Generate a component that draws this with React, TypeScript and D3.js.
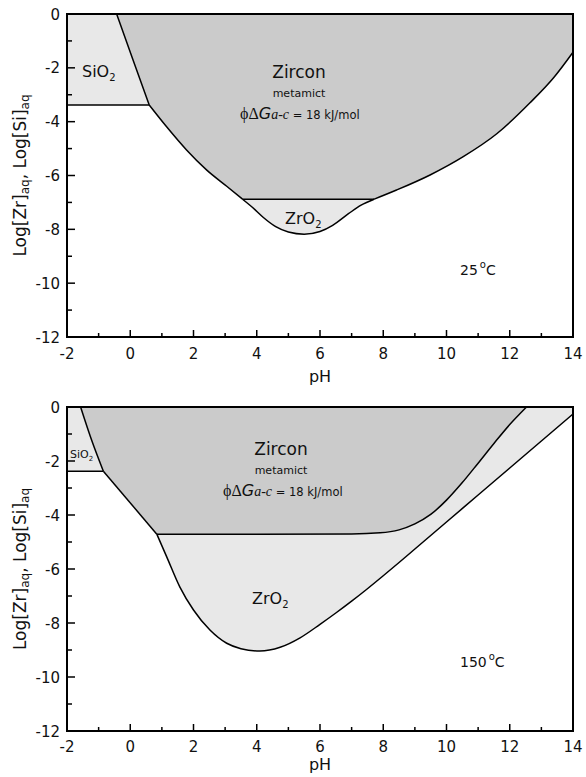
import React, { useEffect, useRef } from "react";
import * as d3 from "d3";

type Pt = [number, number];

// axis ticks
const phTicks = [-2, 0, 2, 4, 6, 8, 10, 12, 14];
const logTicks = [0, -2, -4, -6, -8, -10, -12];

// 25 C boundaries (pH, log activity)
const sio2Level25 = -3.38;
const sio2Edge25: Pt[] = [[-0.43, 0], [0.08, -1.68], [0.6, -3.38]];
const zirconLeft25: Pt[] = [[0.6, -3.38], [1.15, -4.19], [1.78, -5.05], [2.42, -5.8], [3.05, -6.4], [3.55, -6.88]];
const zro2Floor25: Pt[] = [
  [3.55, -6.88], [3.85, -7.17], [4.2, -7.55], [4.6, -7.9], [5.0, -8.1], [5.5, -8.18],
  [6.0, -8.08], [6.4, -7.85], [6.9, -7.42], [7.3, -7.1], [7.71, -6.88],
];
const zirconRight25: Pt[] = [
  [7.71, -6.88], [8.42, -6.54], [9.48, -5.98], [10.53, -5.3], [11.59, -4.45],
  [12.64, -3.3], [13.4, -2.35], [14, -1.42],
];

// 150 C boundaries
const sio2Level150 = -2.38;
const sio2Edge150: Pt[] = [[-1.57, 0], [-1.2, -1.3], [-0.85, -2.38]];
const zirconLeft150: Pt[] = [[-0.85, -2.38], [0.84, -4.71]];
const zirconRight150: Pt[] = [
  [0.84, -4.71], [4.0, -4.71], [7.0, -4.7], [7.9, -4.66], [8.5, -4.55], [9.0, -4.33],
  [9.5, -3.98], [10.0, -3.45], [10.5, -2.8], [11.0, -2.08], [11.5, -1.35], [12.0, -0.65], [12.53, 0],
];
const zro2Floor150: Pt[] = [
  [0.84, -4.71], [1.15, -5.54], [1.57, -6.67], [2.0, -7.52], [2.52, -8.26], [3.05, -8.75],
  [3.5, -8.95], [4.1, -9.04], [4.74, -8.9], [5.37, -8.55], [6.0, -8.05], [6.5, -7.63],
  [7.0, -7.19], [7.5, -6.73], [8.0, -6.25], [8.5, -5.76], [9, -5.26], [10, -4.26],
  [11, -3.26], [12, -2.26], [13, -1.26], [14, -0.26],
];

const temps = ["25", "150"];

const DARK = "#cbcbcb";
const LIGHT = "#e8e8e8";
const SANS = "DejaVu Sans";
const SERIF = "Liberation Serif";

type Part = { pts: Pt[]; smooth?: boolean };
type Span = { t: string; size: number; family?: string; style?: string; dy?: number; dx?: number };

const rev = (a: Pt[]) => a.slice().reverse();

const App = () => {
  const ref = useRef<SVGSVGElement>(null);

  useEffect(() => {
    const svg = d3.select(ref.current);
    svg.selectAll("*").remove();

    const x = d3.scaleLinear().domain([-2, 14]).range([67, 573]);

    const addText = (g: any, tx: number, ty: number, spans: Span[], anchor = "start", rotate = false) => {
      const t = g
        .append("text")
        .attr("text-anchor", anchor)
        .attr("fill", "#111")
        .attr("font-family", SANS);
      if (rotate) t.attr("transform", `translate(${tx},${ty}) rotate(-90)`);
      else t.attr("x", tx).attr("y", ty);
      spans.forEach((s) => {
        const ts = t
          .append("tspan")
          .attr("font-size", s.size)
          .attr("font-family", s.family || SANS)
          .text(s.t);
        if (s.style) ts.attr("font-style", s.style);
        if (s.dy) ts.attr("dy", s.dy);
        if (s.dx) ts.attr("dx", s.dx);
      });
    };

    const drawPanel = (
      top: number,
      bottom: number,
      tickGap: number,
      phGap: number,
      regions: { fill: string; parts: Part[] }[],
      lines: Part[]
    ) => {
      const y = d3.scaleLinear().domain([-12, 0]).range([bottom, top]);
      const g = svg.append("g");
      const mk = (smooth?: boolean) =>
        d3
          .line<Pt>()
          .x((d) => x(d[0]))
          .y((d) => y(d[1]))
          .curve(smooth ? d3.curveMonotoneX : d3.curveLinear);

      regions.forEach((r) => {
        const d =
          r.parts
            .map((p, i) => {
              const s = mk(p.smooth)(p.pts) || "";
              return i === 0 ? s : "L" + s.slice(1);
            })
            .join("") + "Z";
        g.append("path").attr("d", d).attr("fill", r.fill).attr("stroke", "none");
      });

      lines.forEach((p) => {
        g.append("path")
          .attr("d", mk(p.smooth)(p.pts))
          .attr("fill", "none")
          .attr("stroke", "#000")
          .attr("stroke-width", 1.5)
          .attr("stroke-linejoin", "miter");
      });

      // frame
      g.append("rect")
        .attr("x", x(-2))
        .attr("y", y(0))
        .attr("width", x(14) - x(-2))
        .attr("height", y(-12) - y(0))
        .attr("fill", "none")
        .attr("stroke", "#000")
        .attr("stroke-width", 2);

      // inward ticks
      d3.range(-2, 15, 1).forEach((v) => {
        const len = v % 2 === 0 ? 7 : 4;
        g.append("line")
          .attr("x1", x(v)).attr("x2", x(v))
          .attr("y1", y(-12)).attr("y2", y(-12) - len)
          .attr("stroke", "#000").attr("stroke-width", 1.5);
      });
      d3.range(-12, 1, 1).forEach((v) => {
        const len = v % 2 === 0 ? 8 : 5;
        g.append("line")
          .attr("x1", x(-2)).attr("x2", x(-2) + len)
          .attr("y1", y(v)).attr("y2", y(v))
          .attr("stroke", "#000").attr("stroke-width", 1.5);
      });

      phTicks.forEach((v) => {
        addText(g, x(v), y(-12) + tickGap, [{ t: String(v), size: 15 }], "middle");
      });
      logTicks.forEach((v) => {
        addText(g, 60, y(v) + 5.5, [{ t: String(v), size: 15 }], "end");
      });

      addText(g, (x(-2) + x(14)) / 2, y(-12) + phGap, [{ t: "pH", size: 16 }], "middle");
      addText(
        g,
        26,
        (y(0) + y(-12)) / 2,
        [
          { t: "Log[Zr]", size: 17 },
          { t: "aq", size: 12, dy: 3 },
          { t: ", Log[Si]", size: 17, dy: -3 },
          { t: "aq", size: 12, dy: 3 },
        ],
        "middle",
        true
      );
      return g;
    };

    const zirconText = (g: any, cx: number, base: number, fx: number) => {
      addText(g, cx, base, [{ t: "Zircon", size: 17 }], "middle");
      addText(g, cx, base + 19, [{ t: "metamict", size: 11 }], "middle");
      addText(g, fx, base + 41, [
        { t: "ϕΔ", size: 16, family: SERIF },
        { t: "G", size: 16, style: "italic" },
        { t: "a-c", size: 14, family: SERIF, style: "italic" },
        { t: " = 18 kJ/mol", size: 11.5 },
      ]);
    };

    // 25 C
    const g1 = drawPanel(
      14,
      337,
      22,
      45,
      [
        {
          fill: LIGHT,
          parts: [
            { pts: [[-2, 0], sio2Edge25[0]] },
            { pts: sio2Edge25, smooth: true },
            { pts: [sio2Edge25[sio2Edge25.length - 1], [-2, sio2Level25]] },
          ],
        },
        {
          fill: DARK,
          parts: [
            { pts: [sio2Edge25[0], [14, 0], zirconRight25[zirconRight25.length - 1]] },
            { pts: rev(zirconRight25), smooth: true },
            { pts: rev(zirconLeft25), smooth: true },
            { pts: rev(sio2Edge25), smooth: true },
          ],
        },
        { fill: LIGHT, parts: [{ pts: zro2Floor25, smooth: true }] },
      ],
      [
        { pts: [[-2, sio2Level25], zirconLeft25[0]] },
        { pts: sio2Edge25, smooth: true },
        { pts: zirconLeft25, smooth: true },
        { pts: [zro2Floor25[0], zro2Floor25[zro2Floor25.length - 1]] },
        { pts: zro2Floor25, smooth: true },
        { pts: zirconRight25, smooth: true },
      ]
    );
    addText(g1, 82, 77, [{ t: "SiO", size: 16 }, { t: "2", size: 10, dy: 4 }]);
    zirconText(g1, 299, 78, 240);
    addText(g1, 285, 224, [{ t: "ZrO", size: 16 }, { t: "2", size: 10, dy: 4 }]);
    addText(g1, 460, 275, [
      { t: temps[0], size: 14 },
      { t: "o", size: 10, dy: -7, dx: 2 },
      { t: "C", size: 14, dy: 7 },
    ]);

    // 150 C
    const g2 = drawPanel(
      407,
      731,
      21,
      39,
      [
        {
          fill: LIGHT,
          parts: [
            { pts: [[-2, 0], sio2Edge150[0]] },
            { pts: sio2Edge150, smooth: true },
            { pts: [sio2Edge150[sio2Edge150.length - 1], [-2, sio2Level150]] },
          ],
        },
        {
          fill: DARK,
          parts: [
            { pts: [sio2Edge150[0], zirconRight150[zirconRight150.length - 1]] },
            { pts: rev(zirconRight150), smooth: true },
            { pts: rev(zirconLeft150) },
            { pts: rev(sio2Edge150), smooth: true },
          ],
        },
        {
          fill: LIGHT,
          parts: [
            { pts: zro2Floor150, smooth: true },
            { pts: [zro2Floor150[zro2Floor150.length - 1], [14, 0], zirconRight150[zirconRight150.length - 1]] },
            { pts: rev(zirconRight150), smooth: true },
          ],
        },
      ],
      [
        { pts: [[-2, sio2Level150], zirconLeft150[0]] },
        { pts: sio2Edge150, smooth: true },
        { pts: zirconLeft150 },
        { pts: zirconRight150, smooth: true },
        { pts: zro2Floor150, smooth: true },
      ]
    );
    addText(g2, 70, 458, [{ t: "SiO", size: 11 }, { t: "2", size: 7, dy: 3 }]);
    zirconText(g2, 281, 455, 223);
    addText(g2, 252, 604, [{ t: "ZrO", size: 16 }, { t: "2", size: 10, dy: 4 }]);
    addText(g2, 460, 667, [
      { t: temps[1], size: 14 },
      { t: "o", size: 10, dy: -7, dx: 2 },
      { t: "C", size: 14, dy: 7 },
    ]);
  }, []);

  return (
    <svg
      ref={ref}
      width={586}
      height={777}
      style={{ position: "absolute", left: 0, top: 0, background: "#fff" }}
    />
  );
};

export default App;
